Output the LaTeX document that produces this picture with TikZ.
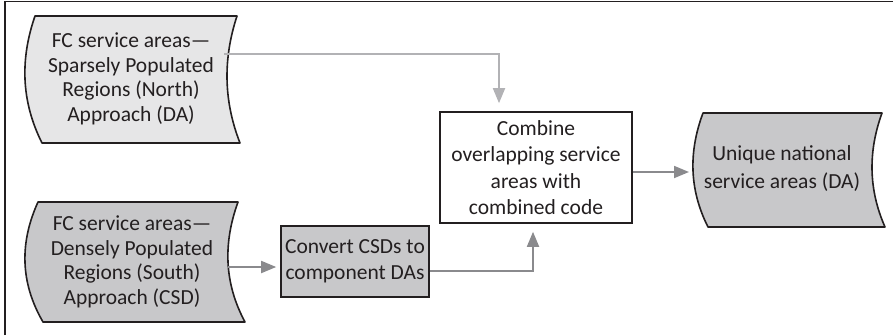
\documentclass[tikz,border=0pt]{standalone}
\usepackage{fontspec}
\setmainfont{Carlito}
\usetikzlibrary{arrows.meta}
\definecolor{ink}{HTML}{231F20}
\definecolor{lightfill}{HTML}{E6E6E7}
\definecolor{darkfill}{HTML}{C8C8CA}
\definecolor{arrowgray}{HTML}{8A8A8D}
\definecolor{arrowlight}{HTML}{B2B2B5}
\tikzset{
  x=1pt, y=-1pt,
  shapeline/.style={draw=ink, line width=1.6pt, line join=round},
  txt/.style={text=ink, align=center, font=\fontsize{21.5}{24.5}\selectfont, inner sep=0pt},
  boxnode/.style={draw=ink, line width=1.6pt, align=center, text=ink, font=\fontsize{21.5}{26.5}\selectfont, inner sep=0pt},
  conn/.style={draw=arrowgray, line width=1.8pt, -{Triangle[length=15pt,width=12pt]}},
  connlight/.style={draw=arrowlight, line width=1.8pt, -{Triangle[length=15pt,width=12pt]}},
}
\begin{document}
\begin{tikzpicture}
\useasboundingbox (0,0) rectangle (893,335);
% frame
\draw[ink, line width=1.2pt] (5,335) -- (5,1.5) -- (893,1.5);
% top-left stored data shape
\draw[shapeline, fill=lightfill] (35,16) -- (237,16)
  .. controls (223.2,58) and (223.2,100) .. (240,143) -- (42,143)
  .. controls (20.5,100) and (20.5,58) .. cycle;
\node[txt] (north) at (131,79) {FC service areas—\\Sparsely Populated\\Regions (North)\\Approach (DA)};
% bottom-left shape
\draw[shapeline, fill=darkfill] (38,202) -- (238,202)
  .. controls (223.5,242) and (223.5,282) .. (245,322) -- (43,322)
  .. controls (19.8,282) and (19.8,242) .. cycle;
\node[txt] (south) at (132,262) {FC service areas—\\Densely Populated\\Regions (South)\\Approach (CSD)};
% unique shape
\draw[shapeline, fill=darkfill] (703,113) -- (882,113)
  .. controls (868.2,151) and (868.2,189) .. (885,227) -- (708,227)
  .. controls (688.8,189) and (688.8,151) .. cycle;
\node[txt, font=\fontsize{21.5}{28}\selectfont] (unique) at (782,169) {Unique national\\service areas (DA)};
% boxes
\node[boxnode, fill=white, minimum width=192pt, minimum height=111pt] (combine) at (536,167.5) {Combine\\overlapping service\\areas with\\combined code};
\node[boxnode, fill=darkfill, minimum width=148pt, minimum height=71pt, font=\fontsize{21.5}{26}\selectfont] (convert) at (355,261.5) {Convert CSDs to\\component DAs};
% connector anchor points on curved edges
\coordinate (northout) at (224,54);
\coordinate (southout) at (228,267);
\coordinate (uniquein) at (693,172);
% connectors
\draw[connlight, shorten >=8pt] (northout) -- (499,54) -- (combine.north -| 499,0);
\draw[conn, shorten >=4pt] (southout) -- (convert.west |- southout);
\draw[conn, shorten >=8pt] (convert.east |- 0,271) -- (533,271) -- (combine.south -| 533,0);
\draw[conn, shorten >=4pt] (combine.east |- uniquein) -- (uniquein);
\end{tikzpicture}
\end{document}
